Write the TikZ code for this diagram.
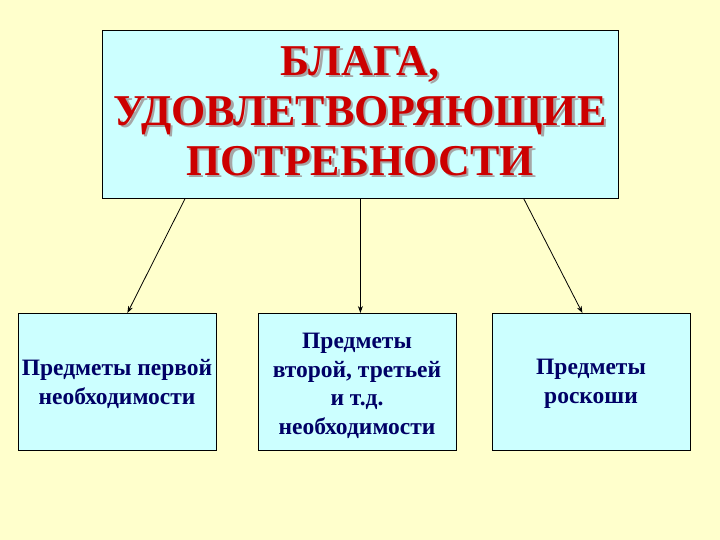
\documentclass[tikz,border=0pt]{standalone}
\usepackage{fontspec}
\setmainfont{Liberation Serif}
\begin{document}
\begin{tikzpicture}[x=1pt,y=-1pt,
  box/.style={draw=black,fill=boxc,line width=0.8pt,anchor=north west,inner sep=0pt},
  lab/.style={align=center,font=\bfseries\fontsize{23.5}{28.5}\selectfont,text=navy},
  ttl/.style={align=center,font=\bfseries\fontsize{44}{50}\selectfont},
  arr/.style={-{Stealth[length=7pt,width=5pt]},line width=0.8pt}]
\definecolor{bg}{HTML}{FFFFCC}
\definecolor{boxc}{HTML}{CCFFFF}
\definecolor{navy}{HTML}{000066}
\definecolor{tred}{HTML}{CC0000}
\usetikzlibrary{arrows.meta}
\fill[bg] (0,0) rectangle (720,540);
\useasboundingbox (0,0) rectangle (720,540);
\node[box,minimum width=516pt,minimum height=168pt] (top) at (102,30) {};
\node[box,minimum width=198pt,minimum height=137pt] (l) at (18,313) {};
\node[box,minimum width=198pt,minimum height=137pt] (m) at (258,313) {};
\node[box,minimum width=198pt,minimum height=137pt] (r) at (492,313) {};
\node[ttl,text=gray!70] (tsh) at (362.5,113.5) {БЛАГА,\\УДОВЛЕТВОРЯЮЩИЕ\\ПОТРЕБНОСТИ};
\node[ttl,text=tred] (tt) at (360,111) {БЛАГА,\\УДОВЛЕТВОРЯЮЩИЕ\\ПОТРЕБНОСТИ};
\node[lab] (lt) at (117,384) {Предметы первой\\необходимости};
\node[lab] (mt) at (357,386) {Предметы\\второй, третьей\\и т.д.\\необходимости};
\node[lab] (rt) at (591,384) {Предметы\\роскоши};
\draw[arr] ([xshift=83pt]top.south west) -- ([xshift=10pt]l.north);
\draw[arr] (top.south) -- (top.south |- m.north);
\draw[arr] ([xshift=-95pt]top.south east) -- ([xshift=-9pt]r.north);
\end{tikzpicture}
\end{document}
